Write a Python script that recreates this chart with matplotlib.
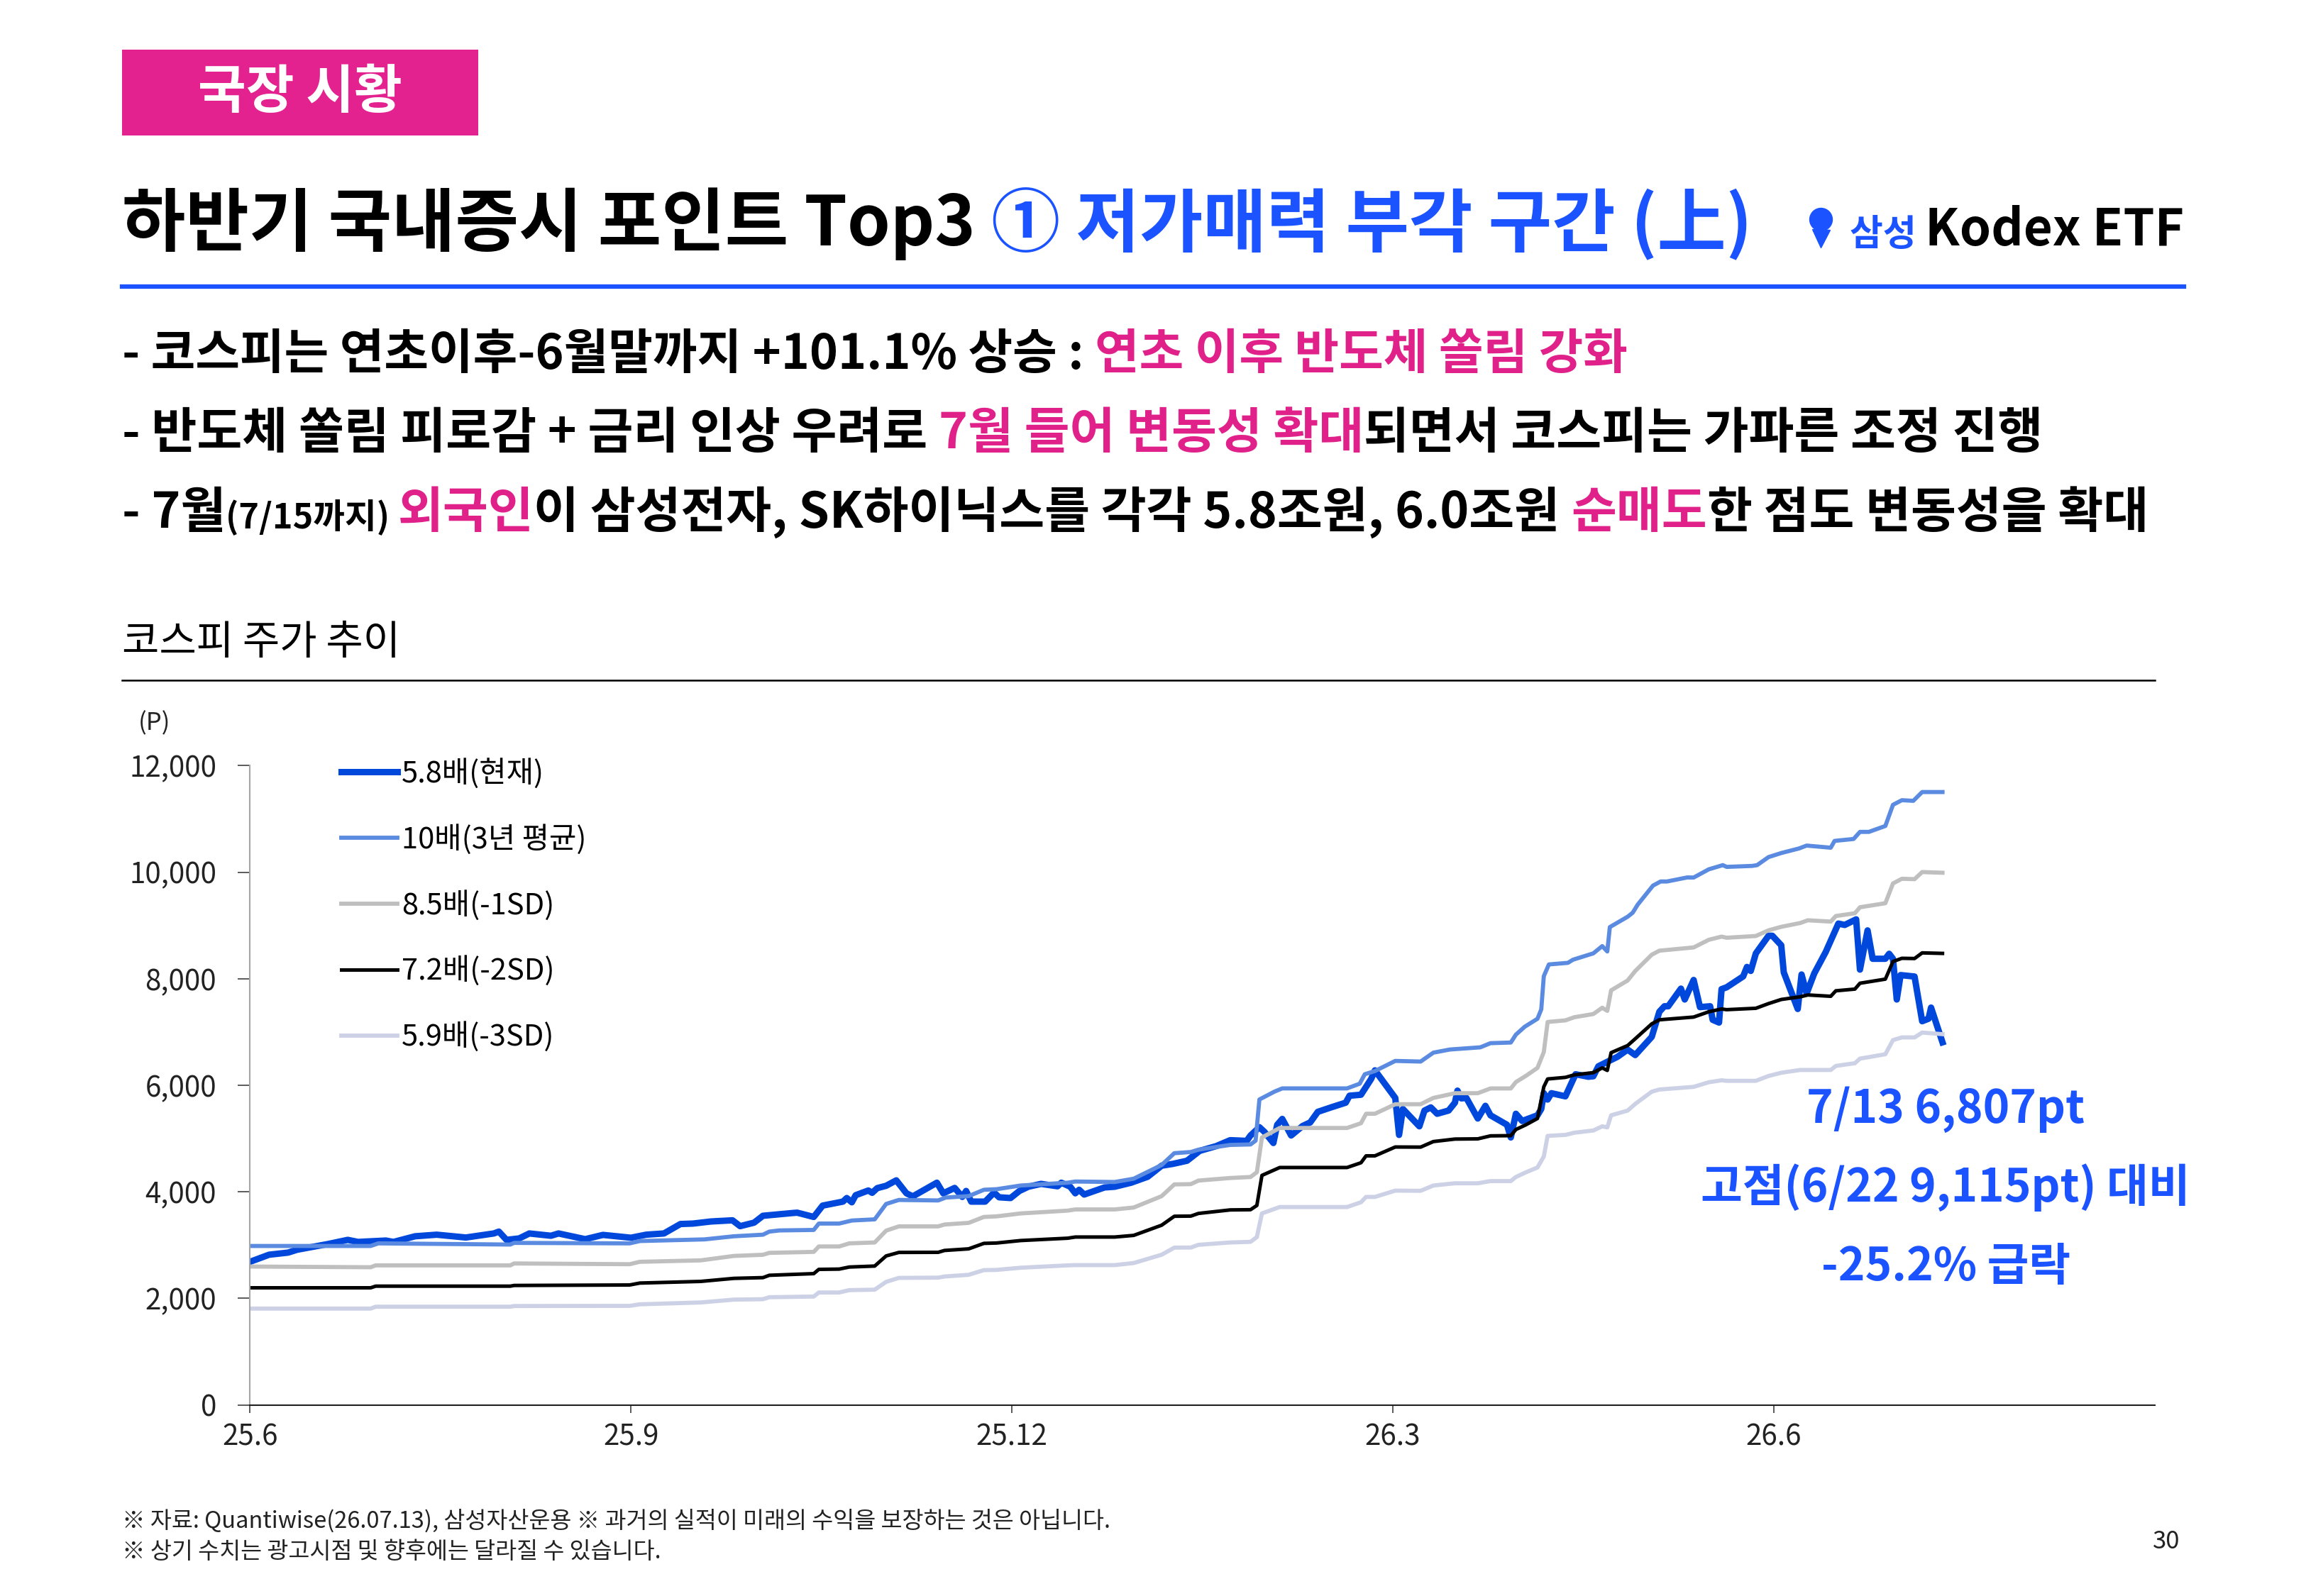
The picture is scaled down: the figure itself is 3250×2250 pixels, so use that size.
import numpy as np
import matplotlib
matplotlib.use("Agg")
import matplotlib.pyplot as plt
from matplotlib.patches import Rectangle
from matplotlib.lines import Line2D

plt.rcParams['font.family'] = ['Noto Sans CJK KR', 'DejaVu Sans']

# ---- data (x = months since 2025-06) ----
tick_pos = [0, 3, 6, 9, 12]
tick_labels = ["25.6", "25.9", "25.12", "26.3", "26.6"]

kospi_x = [0, 0.15, 0.30, 0.37, 0.61, 0.77, 0.85, 1.07, 1.13, 1.30, 1.47, 1.70, 1.92, 1.96, 2.02,
           2.12, 2.20, 2.37, 2.43, 2.64, 2.78, 3.00, 3.12, 3.26, 3.39, 3.49, 3.63, 3.80, 3.86, 3.97,
           4.04, 4.28, 4.31, 4.44, 4.51, 4.67, 4.70, 4.74, 4.77, 4.87, 4.90, 4.94, 5.01, 5.09, 5.17,
           5.22, 5.41, 5.46, 5.55, 5.61, 5.64, 5.68, 5.79, 5.86, 5.90, 5.99, 6.06, 6.13, 6.23, 6.36,
           6.39, 6.46, 6.50, 6.53, 6.57, 6.73, 6.81, 6.94, 7.07, 7.18, 7.27, 7.38, 7.48, 7.61, 7.72,
           7.85, 7.88, 7.95, 7.99, 8.06, 8.09, 8.13, 8.20, 8.29, 8.35, 8.41, 8.52, 8.63, 8.66, 8.75,
           8.83, 8.86, 9.02, 9.05, 9.08, 9.21, 9.25, 9.30, 9.35, 9.44, 9.49, 9.51, 9.54, 9.58, 9.67,
           9.73, 9.77, 9.90, 9.93, 9.97, 10.02, 10.14, 10.17, 10.19, 10.22, 10.25, 10.36, 10.44, 10.54,
           10.58, 10.62, 10.68, 10.77, 10.85, 10.91, 11.04, 11.10, 11.14, 11.17, 11.27, 11.30, 11.37,
           11.42, 11.50, 11.52, 11.57, 11.59, 11.63, 11.76, 11.79, 11.82, 11.86, 11.96, 11.99, 12.06,
           12.08, 12.19, 12.22, 12.26, 12.32, 12.41, 12.51, 12.56, 12.65, 12.68, 12.74, 12.78, 12.88,
           12.91, 12.94, 12.97, 13.00, 13.11, 13.17, 13.22, 13.24, 13.33]
kospi = [2687, 2820, 2860, 2913, 3019, 3099, 3060, 3086, 3060, 3166, 3196, 3143, 3219, 3254, 3099,
         3126, 3219, 3176, 3219, 3112, 3192, 3139, 3196, 3219, 3396, 3405, 3444, 3466, 3356, 3422,
         3551, 3604, 3609, 3529, 3742, 3817, 3884, 3804, 3937, 4026, 3982, 4070, 4114, 4216, 3973,
         3915, 4172, 3973, 4074, 3906, 4017, 3817, 3817, 3986, 3898, 3884, 4017, 4096, 4150, 4105,
         4172, 4096, 3973, 4039, 3950, 4083, 4096, 4172, 4283, 4491, 4526, 4584, 4770, 4859, 4970,
         4957, 5058, 5214, 5125, 4917, 5258, 5369, 5058, 5236, 5303, 5502, 5590, 5674, 5805, 5823,
         6119, 6281, 5763, 5069, 5556, 5230, 5526, 5585, 5466, 5526, 5674, 5900, 5755, 5763, 5377,
         5615, 5437, 5259, 5021, 5466, 5330, 5437, 5556, 5852, 5733, 5852, 5793, 6208, 6161,
         6170, 6357, 6429, 6535, 6670, 6568, 6909, 7381, 7484, 7484, 7815, 7611, 7977,
         7468, 7484, 7230, 7178, 7805, 7840, 8044, 8222, 8147, 8476, 8807, 8807, 8629,
         8120, 7433, 8080, 7723, 8100, 8501, 9036, 9010, 9115, 8172, 8908, 8375, 8375,
         8469, 8375, 7611, 8069, 8042, 7203, 7250, 7459, 6807]

per10_x = [0, 0.95, 1.01, 2.05, 2.08, 2.99, 3.07, 3.58, 3.81, 4.04, 4.09, 4.17, 4.44, 4.48, 4.64,
           4.74, 4.92, 5.01, 5.11, 5.42, 5.48, 5.66, 5.78, 5.88, 6.07, 6.44, 6.50, 6.81, 6.96, 7.18,
           7.28, 7.41, 7.47, 7.72, 7.88, 7.92, 7.95, 8.07, 8.13, 8.64, 8.74, 8.78, 8.86, 9.02, 9.22,
           9.32, 9.45, 9.69, 9.77, 9.93, 9.97, 10.04, 10.14, 10.17, 10.19, 10.23, 10.38, 10.42, 10.58,
           10.65, 10.69, 10.71, 10.85, 10.89, 10.93, 11.05, 11.11, 11.16, 11.32, 11.37, 11.49, 11.60,
           11.63, 11.83, 11.87, 11.96, 12.06, 12.20, 12.26, 12.45, 12.48, 12.63, 12.68, 12.75, 12.88,
           12.94, 13.01, 13.10, 13.17, 13.33]
per10 = [2984, 2984, 3033, 3011, 3042, 3033, 3077, 3108, 3166, 3196, 3254, 3276, 3285, 3405, 3405,
         3462, 3484, 3773, 3848, 3839, 3893, 3920, 4039, 4050, 4119, 4172, 4194, 4185, 4247, 4504,
         4726, 4748, 4792, 4881, 4890, 4961, 5734, 5883, 5942, 5942, 6030, 6208, 6268, 6458, 6446,
         6613, 6672, 6713, 6791, 6803, 6951, 7100, 7249, 7426, 8049, 8269, 8299, 8358, 8477,
         8613, 8512, 8970, 9164, 9240, 9393, 9749, 9826, 9826, 9902, 9900, 10055, 10133,
         10100, 10118, 10133, 10284, 10360, 10446, 10500, 10460, 10588, 10624, 10757, 10757, 10868,
         11265, 11352, 11340, 11505, 11505]

band_x = [0, 0.95, 0.99, 2.05, 2.08, 2.99, 3.07, 3.55, 3.81, 4.04, 4.09, 4.44, 4.48, 4.64, 4.72,
          4.92, 5.01, 5.11, 5.42, 5.47, 5.66, 5.78, 5.88, 6.07, 6.44, 6.50, 6.81, 6.96, 7.18, 7.28,
          7.41, 7.47, 7.72, 7.88, 7.93, 7.97, 8.11, 8.64, 8.75, 8.79, 8.86, 9.02, 9.22, 9.32, 9.49,
          9.67, 9.77, 9.93, 9.97, 10.05, 10.14, 10.19, 10.22, 10.36, 10.43, 10.58, 10.65, 10.69,
          10.72, 10.85, 10.91, 11.04, 11.10, 11.37, 11.49, 11.59, 11.63, 11.86, 11.96, 12.06, 12.21,
          12.27, 12.45, 12.49, 12.64, 12.68, 12.88, 12.94, 13.01, 13.11, 13.17, 13.33]
per85 = [2598, 2585, 2620, 2620, 2656, 2642, 2687, 2714, 2797, 2819, 2855, 2873, 2975, 2975, 3033,
         3050, 3272, 3352, 3352, 3387, 3418, 3529, 3540, 3595, 3648, 3670, 3670, 3706, 3919, 4140,
         4145, 4212, 4260, 4279, 4368, 5021, 5199, 5199, 5288, 5466, 5466, 5645, 5645, 5763, 5852,
         5852, 5941, 5941, 6061, 6179, 6327, 6624, 7189, 7219, 7278, 7338, 7456, 7397,
         7782, 7967, 8145, 8451, 8527, 8588, 8732, 8791, 8770, 8803, 8909, 8975, 9047,
         9098, 9073, 9178, 9230, 9342, 9418, 9789, 9877, 9870, 10003, 9990]
per72 = [2199, 2199, 2230, 2230, 2243, 2252, 2288, 2319, 2376, 2390, 2434, 2465, 2545, 2550, 2589,
         2607, 2797, 2863, 2865, 2900, 2930, 3033, 3040, 3086, 3130, 3152, 3152, 3183, 3374, 3542,
         3545, 3595, 3661, 3665, 3745, 4309, 4457, 4457, 4546, 4676, 4676, 4842, 4840, 4944, 4991,
         4995, 5051, 5055, 5170, 5260, 5377, 5972, 6119, 6149, 6196, 6238, 6327, 6279,
         6613, 6746, 6873, 7153, 7230, 7281, 7381, 7433, 7420, 7446, 7534, 7611, 7662,
         7696, 7671, 7774, 7806, 7916, 7993, 8323, 8384, 8380, 8486, 8476]
per59 = [1809, 1809, 1844, 1844, 1857, 1860, 1889, 1924, 1977, 1985, 2022, 2035, 2111, 2111, 2155,
         2164, 2310, 2385, 2390, 2411, 2443, 2531, 2535, 2576, 2620, 2625, 2625, 2664, 2820, 2953,
         2955, 3006, 3050, 3062, 3151, 3596, 3715, 3715, 3805, 3905, 3905, 4023, 4020, 4119, 4161,
         4161, 4202, 4202, 4279, 4368, 4457, 4664, 5051, 5069, 5110, 5152, 5230, 5210,
         5437, 5525, 5651, 5880, 5921, 5971, 6058, 6094, 6084, 6084, 6175, 6236, 6288,
         6288, 6288, 6364, 6415, 6501, 6583, 6848, 6899, 6899, 6990, 6960]

labels = ["5.8배(현재)", "10배(3년 평균)", "8.5배(-1SD)", "7.2배(-2SD)", "5.9배(-3SD)"]
colors = ['#0047DC', '#5B8BE0', '#BFBFBF', '#000000', '#CDD1E6']
widths = [6.5, 4.2, 4.2, 3.6, 4.2]

BLUE = '#1A53FF'
PINK = '#E0218A'

W, H = 1568, 1086  # layout measured on the reduced reference


def fx(x):
    return x / W


def fy(y):
    return 1 - y / H


fig = plt.figure(figsize=(32.5, 22.5), dpi=100)
renderer = fig.canvas.get_renderer()


def put_line(x, y, parts, size, weight='bold'):
    # draw a line of text made of differently coloured pieces
    x = fx(x)
    for s, c, k in parts:
        t = fig.text(x, fy(y), s, fontsize=size * k, color=c, fontweight=weight,
                     ha='left', va='baseline')
        x += t.get_window_extent(renderer=renderer).width / fig.bbox.width


# header box
fig.add_artist(Rectangle((fx(83), fy(92)), fx(325) - fx(83), fy(34) - fy(92),
                         transform=fig.transFigure, color='#E3218F', lw=0))
fig.text(fx(204), fy(63), "국장 시황", color='white', fontsize=53, fontweight='bold',
         ha='center', va='center')

# title
put_line(83, 167, [("하반기 국내증시 포인트 Top3 ", 'black', 1),
                   ("① 저가매력 부각 구간 (上)", BLUE, 1)], 70)

# logo
fig.add_artist(Line2D([fx(1238)], [fy(149)], marker='o', markersize=23, color=BLUE,
                      transform=fig.transFigure))
fig.add_artist(Line2D([fx(1238)], [fy(162)], marker='v', markersize=18, color=BLUE,
                      transform=fig.transFigure))
put_line(1258, 167, [("삼성 ", BLUE, 0.72), ("Kodex ETF", 'black', 1)], 51)

fig.add_artist(Line2D([fx(83), fx(1485)], [fy(195), fy(195)], color=BLUE, lw=4.5,
                      transform=fig.transFigure))

# bullets
put_line(83, 251, [("- 코스피는 연초이후-6월말까지 +101.1% 상승 : ", 'black', 1),
                   ("연초 이후 반도체 쏠림 강화", PINK, 1)], 49)
put_line(83, 305, [("- 반도체 쏠림 피로감 + 금리 인상 우려로 ", 'black', 1),
                   ("7월 들어 변동성 확대", PINK, 1),
                   ("되면서 코스피는 가파른 조정 진행", 'black', 1)], 50)
put_line(83, 359, [("- 7월", 'black', 1), ("(7/15까지) ", 'black', 0.7),
                   ("외국인", PINK, 1), ("이 삼성전자, SK하이닉스를 각각 5.8조원, 6.0조원 ", 'black', 1),
                   ("순매도", PINK, 1), ("한 점도 변동성을 확대", 'black', 1)], 50)

# chart caption
fig.text(fx(83), fy(437), "코스피 주가 추이", fontsize=41, fontweight='medium',
         ha='left', va='center')
fig.add_artist(Line2D([fx(83), fx(1465)], [fy(463), fy(463)], color='black', lw=1.8,
                      transform=fig.transFigure))

# chart
ax = fig.add_axes([fx(170), fy(956), fx(1465) - fx(170), fy(521) - fy(956)])
series = [(kospi_x, kospi), (per10_x, per10), (band_x, per85), (band_x, per72), (band_x, per59)]
for (xs, ys), lab, c, lw in zip(series, labels, colors, widths):
    ax.plot(xs, ys, color=c, lw=lw, label=lab, solid_joinstyle='round')

ax.set_xlim(0, 15)
ax.set_ylim(0, 12000)
ax.set_xticks(tick_pos)
ax.set_xticklabels(tick_labels)
ax.set_yticks(range(0, 12001, 2000))
ax.set_yticklabels([f"{v:,}" for v in range(0, 12001, 2000)])
ax.tick_params(axis='y', length=12, width=1.2, color='#404040', pad=22, labelsize=29,
               labelcolor='#222222')
ax.tick_params(axis='x', length=8, width=1.2, color='#404040', pad=10, labelsize=29,
               labelcolor='#222222')
for s in ['top', 'right']:
    ax.spines[s].set_visible(False)
ax.spines['left'].set_color('#A6A6A6')
ax.spines['left'].set_linewidth(1.5)
ax.spines['bottom'].set_color('#202020')
ax.spines['bottom'].set_linewidth(1.5)

fig.text(fx(105), fy(492), "(P)", fontsize=25, ha='center', va='center', color='#222222')

ax.legend(loc='upper left', bbox_to_anchor=(fx(232), fy(516)), bbox_transform=fig.transFigure,
          frameon=False, fontsize=30, handlelength=1.9, handletextpad=0.15,
          labelspacing=1.2, borderpad=0, borderaxespad=0)

# annotation
for y, s in [(755, "7/13 6,807pt"), (808, "고점(6/22 9,115pt) 대비"), (862, "-25.2% 급락")]:
    fig.text(fx(1323), fy(y), s, color=BLUE, fontsize=46, fontweight='bold',
             ha='center', va='center')

# footnotes
fig.text(fx(83), fy(1035), "※ 자료: Quantiwise(26.07.13), 삼성자산운용 ※ 과거의 실적이 미래의 수익을 보장하는 것은 아닙니다.",
         fontsize=23.5, ha='left', va='center', color='#222222')
fig.text(fx(83), fy(1056), "※ 상기 수치는 광고시점 및 향후에는 달라질 수 있습니다.",
         fontsize=23.5, ha='left', va='center', color='#222222')
fig.text(fx(1473), fy(1049), "30", fontsize=25, ha='center', va='center', color='#222222')

fig.savefig("out.png", dpi=100)
